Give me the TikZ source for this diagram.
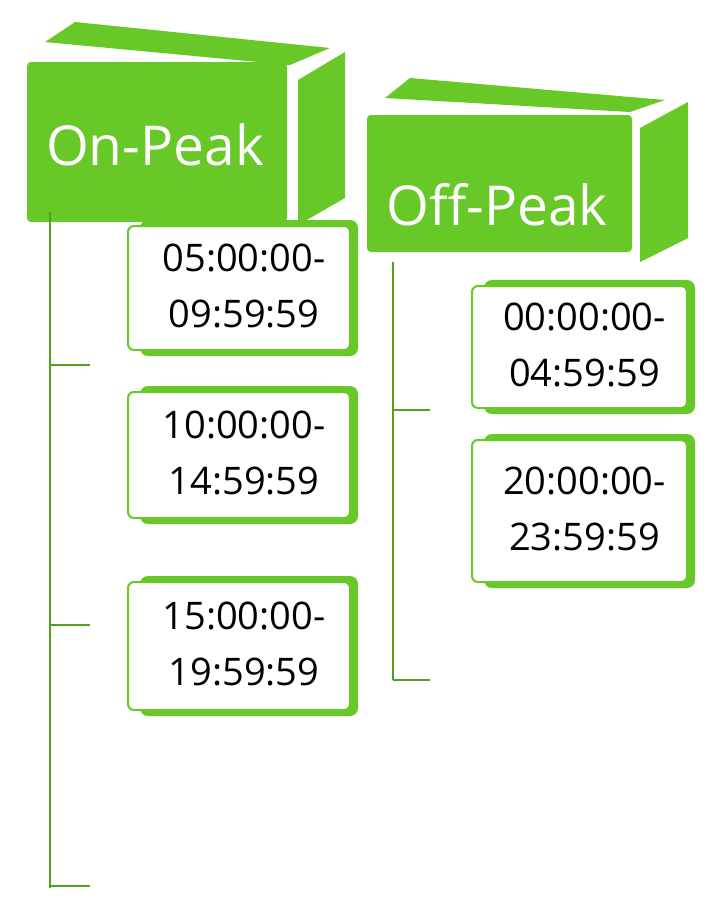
\documentclass[tikz,border=0pt]{standalone}
\usepackage{fontspec}
\setmainfont{Open Sans}
\definecolor{gr}{RGB}{104,200,40}
\begin{document}
\begin{tikzpicture}[x=1pt,y=-1pt,
  face/.style={fill=gr,draw=none},
  timebox/.style={draw=gr,line width=2pt,fill=white,rounded corners=6pt},
  shadow/.style={fill=gr,rounded corners=8pt},
  tline/.style={draw=gr!80!black,line width=2pt},
  hdr/.style={text=white,font=\fontsize{55}{60}\selectfont,anchor=center},
  tm/.style={font=\fontsize{38}{56}\selectfont,align=center,anchor=center,inner sep=0pt}]
\useasboundingbox (0,0) rectangle (720,913);
% On-Peak header
\fill[face] (45,42) -- (75,22) -- (330,48) -- (290,65) -- cycle;
\fill[face] (298,80) -- (345,52) -- (345,198) -- (298,225) -- cycle;
\fill[face,rounded corners=4pt] (27,62) rectangle (287,222);
\node[hdr] (on) at (155,145) {On-Peak};
% Off-Peak header
\fill[face] (385,98) -- (410,78) -- (665,100) -- (630,112) -- cycle;
\fill[face] (640,128) -- (688,102) -- (688,238) -- (640,262) -- cycle;
\fill[face,rounded corners=4pt] (367,115) rectangle (632,252);
\node[hdr] (off) at (497,205) {Off-Peak};
% lines
\coordinate (onTop) at (50,212);
\coordinate (onBot) at (50,888);
\draw[tline] (onTop) -- (onBot);
\coordinate (t1) at (90,365); \coordinate (t2) at (90,625); \coordinate (t3) at (90,886);
\draw[tline] (t1 -| onTop) -- (t1);
\draw[tline] (t2 -| onTop) -- (t2);
\draw[tline] (t3 -| onTop) -- (t3);
\coordinate (offTop) at (393,262);
\coordinate (offBot) at (393,680);
\draw[tline] (offTop) -- (offBot);
\coordinate (u1) at (430,410); \coordinate (u2) at (430,680);
\draw[tline] (u1 -| offTop) -- (u1);
\draw[tline] (u2 -| offTop) -- (u2);
% time boxes
\foreach \n/\x/\y/\w/\h/\t in {a/128/222/222/128/{05:00:00-\\09:59:59},
                                b/128/388/222/130/{10:00:00-\\14:59:59},
                                c/128/578/222/132/{15:00:00-\\19:59:59},
                                d/472/282/215/126/{00:00:00-\\04:59:59},
                                e/472/436/215/146/{20:00:00-\\23:59:59}}{
  \fill[shadow] (\x+12,\y-2) rectangle (\x+\w+8,\y+\h+6);
  \draw[timebox] (\x,\y+4) rectangle (\x+\w,\y+\h);
  \node[tm] (\n) at (\x+\w/2+5,\y+\h/2) {\t};
}
\end{tikzpicture}
\end{document}
